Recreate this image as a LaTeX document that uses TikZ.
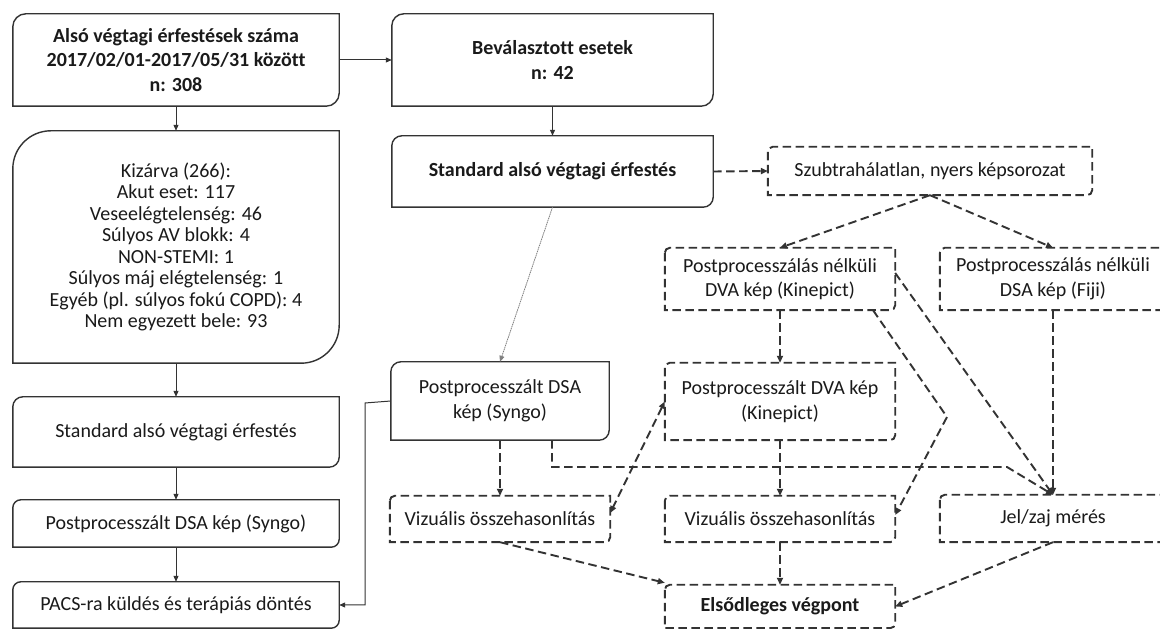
\documentclass[tikz,border=0pt]{standalone}
\usepackage{fontspec}
\setmainfont{Carlito}[Ligatures=NoCommon]
\usetikzlibrary{arrows.meta,calc}
\definecolor{ln}{HTML}{333333}
\definecolor{tx}{HTML}{1A1A1A}
\newcommand\dgshape[3]{\draw[#1] ($(#2.north west)+(0,-#3)$) -- (#2.south west) -- ($(#2.south east)+(-#3,0)$) arc[start angle=270,end angle=360,radius=#3] -- (#2.north east) -- ($(#2.north west)+(#3,0)$) arc[start angle=90,end angle=180,radius=#3] -- cycle;}
\tikzset{
  x=1pt,y=1pt,
  bx/.style={inner sep=0pt, align=center, text=tx, font=\fontsize{20}{24.5}\selectfont},
  solidline/.style={draw=ln, line width=1.4pt},
  dashline/.style={draw=ln, line width=1.9pt, dash pattern=on 8.5pt off 4.5pt},
  sarrow/.style={draw=ln, line width=1pt, -{Triangle[length=6pt,width=5pt]}},
  darrow/.style={draw=ln, line width=1.9pt, dash pattern=on 8.5pt off 4.5pt, -{Triangle[length=7pt,width=6pt]}},
  darrow2/.style={draw=ln, line width=1.9pt, dash pattern=on 8.5pt off 4.5pt, {Triangle[length=7pt,width=6pt]}-{Triangle[length=7pt,width=6pt]}},
  thinarrow/.style={draw=gray, line width=0.8pt, dash pattern=on 1.5pt off 0.7pt, -{Triangle[length=6pt,width=5pt]}}
}
\begin{document}
\begin{tikzpicture}
\useasboundingbox (0,0) rectangle (1160,629);
\clip (0,0) rectangle (1160,629);
\fill[white] (0,0) rectangle (1160,629);
% left column
\node[bx, minimum width=326, minimum height=92] (A) at (176,569) {\bfseries Alsó végtagi érfestések száma\\\bfseries 2017/02/01-2017/05/31 között\\\bfseries n: 308};
\node[bx, minimum width=326, minimum height=232, font=\fontsize{20}{21.5}\selectfont] (B) at (176,382) {Kizárva (266):\\Akut eset: 117\\Veseelégtelenség: 46\\Súlyos AV blokk: 4\\NON-STEMI: 1\\Súlyos máj elégtelenség: 1\\Egyéb (pl. súlyos fokú COPD): 4\\Nem egyezett bele: 93};
\node[bx, minimum width=326, minimum height=70] (C) at (176,197) {Standard alsó végtagi érfestés};
\node[bx, minimum width=326, minimum height=47] (D) at (176,105.5) {Postprocesszált DSA kép (Syngo)};
\node[bx, minimum width=326, minimum height=46] (E) at (176,24) {PACS-ra küldés és terápiás döntés};
% middle column
\node[bx, minimum width=321, minimum height=92] (F) at (552.5,569) {\bfseries Beválasztott esetek\\\bfseries n: 42};
\node[bx, minimum width=321, minimum height=71] (G) at (552.5,457.5) {\bfseries Standard alsó végtagi érfestés};
\node[bx, minimum width=218, minimum height=78] (L) at (500,228) {Postprocesszált DSA\\kép (Syngo)};
\node[bx, minimum width=220, minimum height=46] (M) at (500,110) {Vizuális összehasonlítás};
% right part
\node[bx, minimum width=324, minimum height=48] (H) at (930,458) {Szubtrahálatlan, nyers képsorozat};
\node[bx, minimum width=230, minimum height=62] (I) at (780,350) {Postprocesszálás nélküli\\DVA kép (Kinepict)};
\node[bx, minimum width=226, minimum height=62] (J) at (1053,350) {Postprocesszálás nélküli\\DSA kép (Fiji)};
\node[bx, minimum width=230, minimum height=77] (K) at (780,227.5) {Postprocesszált DVA kép\\(Kinepict)};
\node[bx, minimum width=230, minimum height=46] (N) at (780,110) {Vizuális összehasonlítás};
\node[bx, minimum width=226, minimum height=47] (O) at (1053,110.5) {Jel/zaj mérés};
\node[bx, minimum width=230, minimum height=43] (P) at (780,22.5) {\bfseries Elsődleges végpont};
% shapes
\dgshape{solidline}{A}{13pt}
\dgshape{solidline}{B}{38pt}
\dgshape{solidline}{C}{10pt}
\dgshape{solidline}{D}{8pt}
\dgshape{solidline}{E}{8pt}
\dgshape{solidline}{F}{12pt}
\dgshape{solidline}{G}{10pt}
\dgshape{solidline}{L}{10pt}
\dgshape{dashline}{H}{5pt}
\dgshape{dashline}{I}{5pt}
\dgshape{dashline}{J}{5pt}
\dgshape{dashline}{K}{5pt}
\dgshape{dashline}{M}{5pt}
\dgshape{dashline}{N}{5pt}
\dgshape{dashline}{O}{5pt}
\dgshape{dashline}{P}{5pt}
% helper coordinates
\coordinate (bend1) at (947,212);
\coordinate (lo) at (1007,162);
\coordinate (lcol) at (365,226);
% solid connectors
\draw[sarrow] (A.south) -- (B.north);
\draw[sarrow] (A.east) -- (F.west);
\draw[sarrow] (B.south) -- (C.north);
\draw[sarrow] (C.south) -- (D.north);
\draw[sarrow] (D.south) -- (E.north);
\draw[sarrow] (F.south) -- (G.north);
\draw[sarrow] (L.west) -- (lcol) |- (E.east);
\draw[thinarrow] (G.south) -- (L.north);
% dashed connectors
\draw[darrow] (G.east) -- (H.west);
\draw[darrow] (H.south) -- (I.north);
\draw[darrow] (H.south) -- (J.north);
\draw[darrow] (I.south) -- (K.north);
\draw[darrow] ([yshift=6pt]I.east) -- (O.north);
\draw[darrow] ([xshift=93pt]I.south) -- (bend1) -- ([yshift=4pt]N.east);
\draw[darrow] (J.south) -- (O.north);
\draw[darrow2] (K.west) -- ([yshift=6pt]M.east);
\draw[darrow] (L.south) -- (M.north);
\draw[darrow] ([xshift=52pt]L.south) |- (lo) -- (O.north);
\draw[darrow] (K.south) -- (N.north);
\draw[darrow] (N.south) -- (P.north);
\draw[darrow] (M.south) -- ([yshift=2pt]P.north west);
\draw[darrow] (O.south) -- (P.east);
\end{tikzpicture}
\end{document}
